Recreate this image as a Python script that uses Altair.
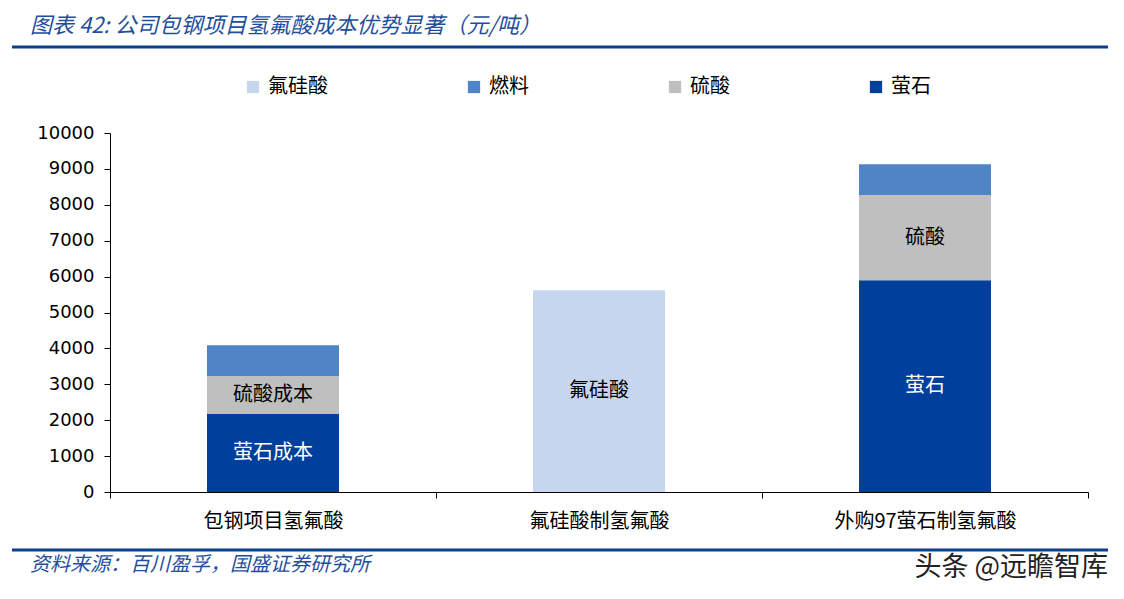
import altair as alt
import pandas as pd

categories = ["包钢项目氢氟酸", "氟硅酸制氢氟酸", "外购97萤石制氢氟酸"]
components = ["氟硅酸", "燃料", "硫酸", "萤石"]
colors = ["#C6D6EE", "#4F84C6", "#BFBFBF", "#003F9C"]
y_ticks = [0, 1000, 2000, 3000, 4000, 5000, 6000, 7000, 8000, 9000, 10000]

# cost per component for each category (元/吨)
fluorite = [2170, 0, 5900]
sulfuric = [1060, 0, 2370]
fuel = [860, 0, 860]
fluosilicic = [0, 5620, 0]

seg_labels = {
    ("包钢项目氢氟酸", "萤石"): "萤石成本",
    ("包钢项目氢氟酸", "硫酸"): "硫酸成本",
    ("氟硅酸制氢氟酸", "氟硅酸"): "氟硅酸",
    ("外购97萤石制氢氟酸", "硫酸"): "硫酸",
    ("外购97萤石制氢氟酸", "萤石"): "萤石",
}
stack_order = {"萤石": 0, "硫酸": 1, "燃料": 2, "氟硅酸": 3}

rows = []
for i, c in enumerate(categories):
    base = 0
    for comp, vals in [("萤石", fluorite), ("硫酸", sulfuric), ("燃料", fuel), ("氟硅酸", fluosilicic)]:
        v = vals[i]
        if v > 0:
            rows.append({
                "cat": c, "comp": comp, "value": v, "ord": stack_order[comp],
                "start": base, "end": base + v, "mid": base + v / 2,
                "label": seg_labels.get((c, comp), ""),
                "tcolor": "white" if comp == "萤石" else "black",
            })
            base += v
df = pd.DataFrame(rows)

CJK = "Noto Sans CJK SC"

x_axis = alt.Axis(labelAngle=0, labelFont=CJK, labelFontSize=20, labelColor="black",
                  domainColor="black", tickColor="black", tickBand="extent",
                  tickSize=6, labelPadding=13, labelLimit=500)
x_scale = alt.Scale(paddingInner=0, paddingOuter=0)
y_axis = alt.Axis(values=y_ticks, format="d", labelOverlap=False, grid=False,
                  labelFont="DejaVu Sans", labelFontSize=18, labelColor="black",
                  domainColor="black", tickColor="black", tickSize=6, labelPadding=10)
y_scale = alt.Scale(domain=[0, 10000])

bars = alt.Chart(df).mark_bar(width=132).encode(
    x=alt.X("cat:N", sort=categories, title=None, scale=x_scale, axis=x_axis),
    y=alt.Y("start:Q", title=None, scale=y_scale, axis=y_axis),
    y2="end:Q",
    color=alt.Color("comp:N", scale=alt.Scale(domain=components, range=colors),
                    legend=alt.Legend(title=None, orient="none", direction="horizontal",
                                      legendX=133, legendY=-56, columns=4, columnPadding=136,
                                      symbolType="square", symbolSize=150, symbolStrokeWidth=0,
                                      labelFont=CJK, labelFontSize=20, labelColor="black",
                                      labelOffset=5)),
    order=alt.Order("ord:Q"),
)

labels = alt.Chart(df[df["label"] != ""]).mark_text(font=CJK, fontSize=20).encode(
    x=alt.X("cat:N", sort=categories, title=None, scale=x_scale, axis=x_axis),
    y=alt.Y("mid:Q", title=None, scale=y_scale, axis=y_axis),
    text="label:N",
    color=alt.Color("tcolor:N", scale=None),
)

deco = pd.DataFrame({"d": [0]})
title = alt.Chart(deco).mark_text(text="图表 42:  公司包钢项目氢氟酸成本优势显著（元/吨）", font=CJK,
                                  fontSize=22, fontStyle="italic", color="#1F4F9C",
                                  align="left", baseline="middle").encode(
    x=alt.value(-80), y=alt.value(-107))
top_line = alt.Chart(deco).mark_rule(color="#0B3F8F", strokeWidth=3).encode(
    x=alt.value(-98), x2=alt.value(998), y=alt.value(-86))
bot_line = alt.Chart(deco).mark_rule(color="#0B3F8F", strokeWidth=3).encode(
    x=alt.value(-98), x2=alt.value(998), y=alt.value(417))
source = alt.Chart(deco).mark_text(text="资料来源：百川盈孚，国盛证券研究所", font=CJK,
                                   fontSize=20, fontStyle="italic", color="#1F4F9C",
                                   align="left", baseline="middle").encode(
    x=alt.value(-80), y=alt.value(432))
mark = alt.Chart(deco).mark_text(text="头条 @远瞻智库", font=CJK, fontSize=27, color="#222222",
                                 align="right", baseline="middle").encode(
    x=alt.value(998), y=alt.value(435))

chart = alt.layer(bars, labels, title, top_line, bot_line, source, mark).properties(
    width=978, height=359,
    autosize=alt.AutoSizeParams(type="none"),
    padding={"left": 102, "top": 125, "right": 28, "bottom": 95},
    background="white",
).configure_view(stroke=None)

chart.save("out.html", embed_options={"renderer": "svg", "actions": False})
